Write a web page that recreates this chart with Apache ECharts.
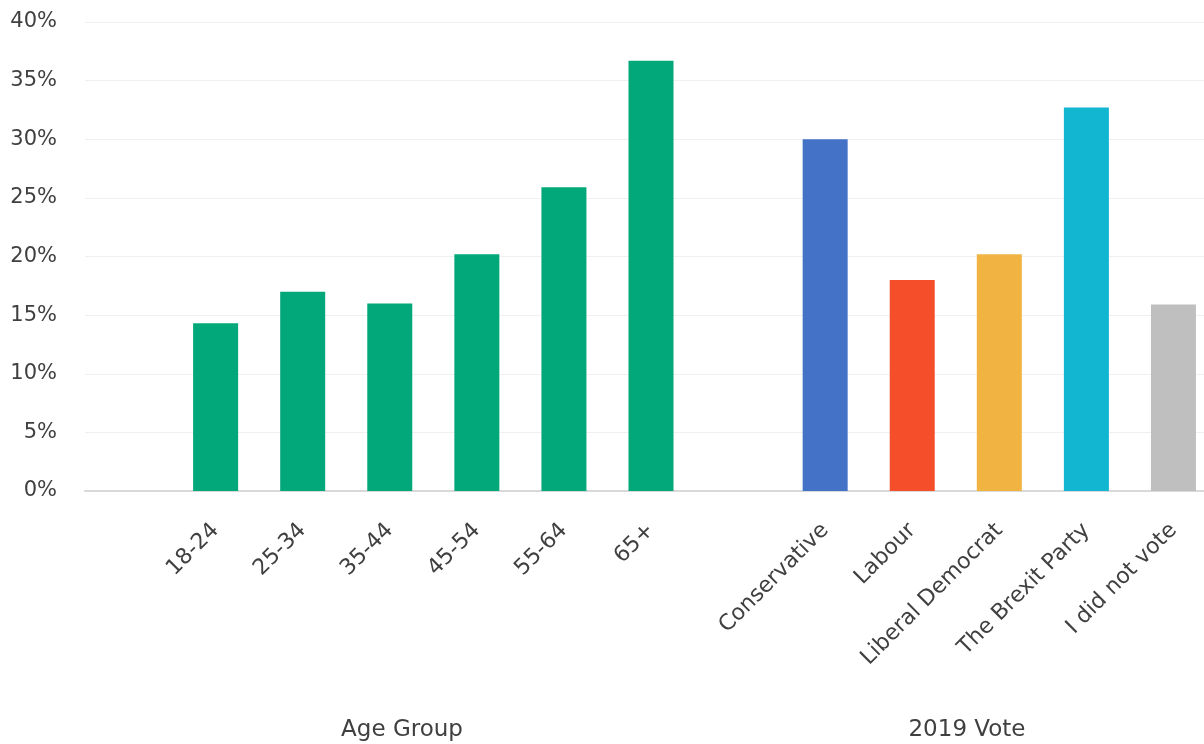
<!DOCTYPE html>
<html>
<head>
<meta charset="utf-8">
<script src="https://cdn.jsdelivr.net/npm/echarts@6/dist/echarts.min.js"></script>
<style>html,body{margin:0;padding:0;background:#fff}#c{width:1204px;height:744px}</style>
</head>
<body>
<div id="c"></div>
<script>
var categories = ['', '18-24', '25-34', '35-44', '45-54', '55-64', '65+', '', 'Conservative', 'Labour', 'Liberal Democrat', 'The Brexit Party', 'I did not vote'];
var values = ['-', 14.3, 17.0, 16.0, 20.2, 25.9, 36.7, '-', 30.0, 18.0, 20.2, 32.7, 15.9];
var barColors = ['#02a879', '#02a879', '#02a879', '#02a879', '#02a879', '#02a879', '#02a879', '#02a879', '#4472c7', '#f44f2a', '#f1b443', '#12b6d1', '#bfbfbf'];
var groupLabels = ['Age Group', '2019 Vote'];
var yTicks = {min: 0, max: 40, interval: 5};

var FONT = "'DejaVu Sans', 'Noto Sans', sans-serif";
var chart = echarts.init(document.getElementById('c'));
chart.setOption({
  animation: false,
  grid: {left: 85, right: -13, top: 22, bottom: 253, containLabel: false, outerBoundsMode: 'none'},
  xAxis: {
    type: 'category',
    data: categories,
    axisTick: {show: false},
    axisLine: {lineStyle: {color: '#d9d9d9', width: 2}},
    axisLabel: {interval: 0, rotate: 45, margin: 36, fontSize: 22, color: '#404040', fontFamily: FONT}
  },
  yAxis: {
    type: 'value',
    min: yTicks.min, max: yTicks.max, interval: yTicks.interval,
    axisLine: {show: false},
    axisTick: {show: false},
    splitLine: {lineStyle: {color: '#f0f0f0', width: 1}},
    axisLabel: {formatter: '{value}%', fontSize: 21, color: '#404040', margin: 28, fontFamily: FONT}
  },
  series: [{
    type: 'bar',
    barWidth: 45,
    data: values.map(function (v, i) { return {value: v, itemStyle: {color: barColors[i]}}; })
  }],
  graphic: [
    {type: 'text', x: 402, y: 730, style: {text: groupLabels[0], fontSize: 23, fill: '#404040', fontFamily: FONT, textAlign: 'center', textVerticalAlign: 'middle'}},
    {type: 'text', x: 967, y: 730, style: {text: groupLabels[1], fontSize: 23, fill: '#404040', fontFamily: FONT, textAlign: 'center', textVerticalAlign: 'middle'}}
  ]
});
</script>
</body>
</html>
